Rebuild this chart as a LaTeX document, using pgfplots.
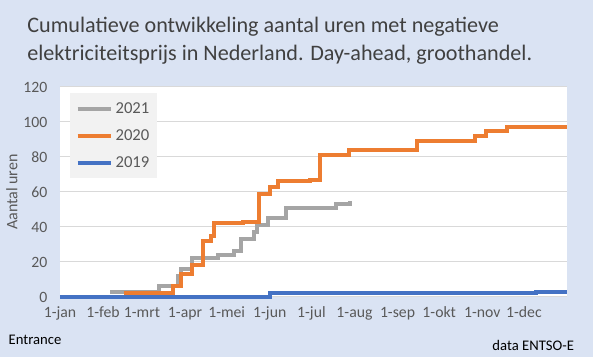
\documentclass[border=0pt]{standalone}
\usepackage{pgfplots}
\pgfplotsset{compat=1.18}
\usepackage{fontspec}
\setmainfont{Carlito}
\definecolor{bg}{HTML}{DAE3F3}
\definecolor{gridc}{HTML}{D9D9D9}
\definecolor{tickc}{HTML}{595959}
\definecolor{titlec}{HTML}{404040}
\definecolor{c2021}{HTML}{A5A5A5}
\definecolor{c2020}{HTML}{ED7D31}
\definecolor{c2019}{HTML}{4472C4}
\definecolor{legbg}{HTML}{F2F2F2}

\pgfplotstableread{
day val
36 3
71 6
85 12
87 16
95 22
114 24
125 26
130 33
140 37
142 41
150 45
163 51
199 53
209 55
}\yeartwentyone

\pgfplotstableread{
day val
46 2
81 6
87 13
95 18
103 32
109 35
111 42
132 43
143 59
151 63
157 66
180 67
187 81
208 84
257 89
299 92
307 95
322 97
365 97
}\yeartwenty

\pgfplotstableread{
day val
0 0
151 2
343 3
365 3
}\yearnineteen

\begin{document}
\begin{tikzpicture}
\fill[bg] (0,0) rectangle (444.75pt,267.75pt);
\node[anchor=base west, text=titlec, font=\fontsize{16.6}{19}\selectfont] at (17pt,243pt) {Cumulatieve ontwikkeling aantal uren met negatieve};
\node[anchor=base west, text=titlec, font=\fontsize{16.6}{19}\selectfont] at (17pt,222pt) {elektriciteitsprijs in Nederland. Day-ahead, groothandel.};
\node[rotate=90, text=tickc, font=\fontsize{12}{14}\selectfont] at (9pt,123.75pt) {Aantal uren};
\node[anchor=base west, text=black, font=\fontsize{11}{13}\selectfont] at (3pt,9pt) {Entrance};
\node[anchor=base east, text=black, font=\fontsize{11}{13}\selectfont] at (434pt,4.5pt) {data ENTSO-E};
\begin{axis}[
  at={(45pt,45pt)}, anchor=south west,
  scale only axis, width=380.25pt, height=157.5pt,
  xmin=0, xmax=365, ymin=0, ymax=120,
  ytick={0,20,...,120},
  xtick={0,31,59,90,120,151,181,212,243,273,304,334},
  xticklabels={1-jan,1-feb,1-mrt,1-apr,1-mei,1-jun,1-jul,1-aug,1-sep,1-okt,1-nov,1-dec},
  axis background/.style={fill=white},
  axis line style={draw=none},
  major tick length=0pt,
  ymajorgrids,
  grid style={draw=gridc, line width=0.75pt},
  tick label style={font=\fontsize{11.8}{13}\selectfont, text=tickc},
  /pgf/number format/assume math mode=true,
  xticklabel style={yshift=-4pt},
  yticklabel style={xshift=-6pt},
  clip=false,
  legend cell align=left,
  legend style={at={(0.0197,0.971)}, anchor=north west, fill=legbg, draw=none,
    font=\fontsize{12.5}{14}\selectfont, text=tickc, row sep=6.5pt, inner xsep=4pt, inner ysep=5pt},
  legend image code/.code={\draw[#1] (0pt,0pt) -- (25pt,0pt);},
]
\addplot[const plot, c2021, line width=3pt] table[x=day,y=val] {\yeartwentyone};
\addlegendentry{2021}
\addplot[const plot, c2020, line width=3pt] table[x=day,y=val] {\yeartwenty};
\addlegendentry{2020}
\addplot[const plot, c2019, line width=3pt] table[x=day,y=val] {\yearnineteen};
\addlegendentry{2019}
\end{axis}
\end{tikzpicture}
\end{document}
